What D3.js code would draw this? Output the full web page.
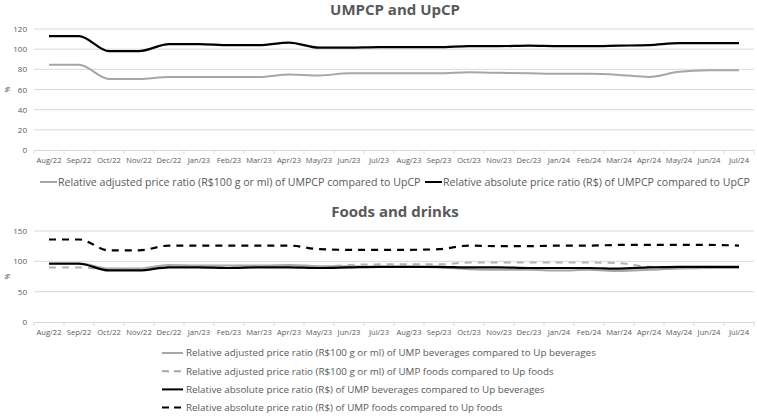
<!DOCTYPE html>
<html>
<head>
<meta charset="utf-8">
<script src="https://cdn.jsdelivr.net/npm/d3@7"></script>
<style>
  body { margin: 0; background: #fff; }
  text { font-family: "Open Sans", "Noto Sans", sans-serif; }
</style>
</head>
<body>
<div id="main"></div>
<script>
// meses
const months = ["Aug/22","Sep/22","Oct/22","Nov/22","Dec/22","Jan/23","Feb/23","Mar/23","Apr/23","May/23","Jun/23","Jul/23",
  "Aug/23","Sep/23","Oct/23","Nov/23","Dec/23","Jan/24","Feb/24","Mar/24","Apr/24","May/24","Jun/24","Jul/24"];

// grafico 1 - UMPCP e UpCP
const umpcpAdjusted = [84.5,84.5,70.5,70.5,72.5,72.5,72.5,72.5,75,74,76,76,76,76,77,76.5,76,75.5,75.5,74.5,72.5,77.5,79,79];
const umpcpAbsolute = [113,113,98,98,105,105,104,104,106.5,101.5,101.5,102,102,102,103,103,103.5,103,103,103.5,104,106,106,106];
const topTicks = [0,20,40,60,80,100,120];

// grafico 2 - alimentos e bebidas
const bevAdjusted = [97,97,88,88,94,93,93,93,94,92,92,91,91,90,87,86,86,85,86,84,86,88,89,89];
const foodAdjusted = [90,90,87,87,92,92,92,92,92,91,94,95,95,95,98,98,98,98,98,97,91,90,90,90];
const bevAbsolute = [96,96,85,85,90,90,89,90,90,89,90,91,91,91,90,90,89,89,89,88,90,91,91,91];
const foodAbsolute = [136,136,118,118,126,126,126,126,126,120,119,119,119,120,126,125,125,126,126,127,127,127,127,126];
const bottomTicks = [0,50,100,150];

const W = 757, H = 416;
const svg = d3.select("#main").append("svg").attr("width", W).attr("height", H);

const gray = "#a6a6a6", black = "#000000", textCol = "#595959";

function drawChart(cfg) {
  const x = d3.scaleBand().domain(months).range([cfg.left, cfg.right]);
  const y = d3.scaleLinear().domain([0, cfg.max]).range([cfg.bottom, cfg.top]);

  // titulo
  svg.append("text")
    .attr("x", 395).attr("y", cfg.titleY)
    .attr("text-anchor", "middle")
    .attr("font-size", "15px").attr("font-weight", "bold")
    .attr("fill", textCol)
    .text(cfg.title);

  // grade
  svg.append("g").selectAll("line")
    .data(cfg.ticks.filter(d => d > 0))
    .join("line")
    .attr("x1", cfg.left).attr("x2", cfg.right)
    .attr("y1", d => y(d)).attr("y2", d => y(d))
    .attr("stroke", "#d9d9d9").attr("stroke-width", 1);

  // eixo Y
  const yAxis = svg.append("g")
    .attr("transform", `translate(${cfg.left},0)`)
    .call(d3.axisLeft(y).tickValues(cfg.ticks).tickSize(0).tickPadding(7));
  yAxis.select(".domain").remove();
  yAxis.selectAll("text").attr("font-size", "8px").attr("fill", textCol)
    .attr("font-family", "'Open Sans', sans-serif");

  // eixo X
  const xAxis = svg.append("g")
    .attr("transform", `translate(0,${cfg.bottom})`)
    .call(d3.axisBottom(x).tickSize(0).tickPadding(8));
  xAxis.select(".domain").attr("stroke", "#d9d9d9");
  xAxis.selectAll("text").attr("font-size", "7.6px").attr("fill", textCol)
    .attr("font-family", "'Open Sans', sans-serif");
  // marcadores entre categorias
  svg.append("g").selectAll("line")
    .data(months.concat(["end"]))
    .join("line")
    .attr("x1", (d, i) => cfg.left + i * x.step())
    .attr("x2", (d, i) => cfg.left + i * x.step())
    .attr("y1", cfg.bottom).attr("y2", cfg.bottom + 4)
    .attr("stroke", "#d9d9d9");

  // rotulo %
  svg.append("text")
    .attr("transform", `translate(10,${(cfg.top + cfg.bottom) / 2}) rotate(-90)`)
    .attr("text-anchor", "middle")
    .attr("font-size", "7px").attr("fill", textCol)
    .text("%");

  const line = d3.line()
    .x((d, i) => x(months[i]) + x.bandwidth() / 2)
    .y(d => y(d))
    .curve(d3.curveMonotoneX);

  cfg.series.forEach(s => {
    svg.append("path")
      .datum(s.values)
      .attr("d", line)
      .attr("fill", "none")
      .attr("stroke", s.color)
      .attr("stroke-width", s.width)
      .attr("stroke-dasharray", s.dash || null)
      .attr("stroke-linejoin", "round");
  });
}

drawChart({
  title: "UMPCP and UpCP", titleY: 15,
  left: 34, right: 754, top: 29, bottom: 150, max: 120, ticks: topTicks,
  series: [
    { values: umpcpAdjusted, color: gray, width: 2 },
    { values: umpcpAbsolute, color: black, width: 2.2 }
  ]
});

drawChart({
  title: "Foods and drinks", titleY: 217,
  left: 34, right: 754, top: 231, bottom: 322, max: 150, ticks: bottomTicks,
  series: [
    { values: foodAbsolute, color: black, width: 2.2, dash: "7,6" },
    { values: bevAdjusted, color: gray, width: 2 },
    { values: foodAdjusted, color: "#b3b3b3", width: 2, dash: "7,6" },
    { values: bevAbsolute, color: black, width: 2.2 }
  ]
});

// legendas
const topLegend = [
  { label: "Relative adjusted price ratio (R$100 g or ml) of UMPCP compared to UpCP", color: gray, x: 40 },
  { label: "Relative absolute price ratio (R$) of UMPCP compared to UpCP", color: black, x: 425 }
];
const bottomLegend = [
  { label: "Relative adjusted price ratio (R$100 g or ml) of UMP beverages compared to Up beverages", color: gray, dash: null },
  { label: "Relative adjusted price ratio (R$100 g or ml) of UMP foods compared to Up foods", color: gray, dash: "7,5" },
  { label: "Relative absolute price ratio (R$) of UMP beverages compared to Up beverages", color: black, dash: null },
  { label: "Relative absolute price ratio (R$) of UMP foods compared to Up foods", color: black, dash: "7,5" }
];

const lg1 = svg.append("g").selectAll("g").data(topLegend).join("g")
  .attr("transform", d => `translate(${d.x},182)`);
lg1.append("line").attr("x1", 0).attr("x2", 17).attr("stroke", d => d.color).attr("stroke-width", 2);
lg1.append("text").attr("x", 18).attr("dy", "0.35em")
  .attr("font-size", "10.6px").attr("fill", textCol).text(d => d.label);

const lg2 = svg.append("g").selectAll("g").data(bottomLegend).join("g")
  .attr("transform", (d, i) => `translate(162,${353 + i * 18.2})`);
lg2.append("line").attr("x1", 0).attr("x2", 21).attr("stroke", d => d.color).attr("stroke-width", 2)
  .attr("stroke-dasharray", d => d.dash);
lg2.append("text").attr("x", 24).attr("dy", "0.35em")
  .attr("font-size", "9.8px").attr("fill", textCol).text(d => d.label);
</script>
</body>
</html>
